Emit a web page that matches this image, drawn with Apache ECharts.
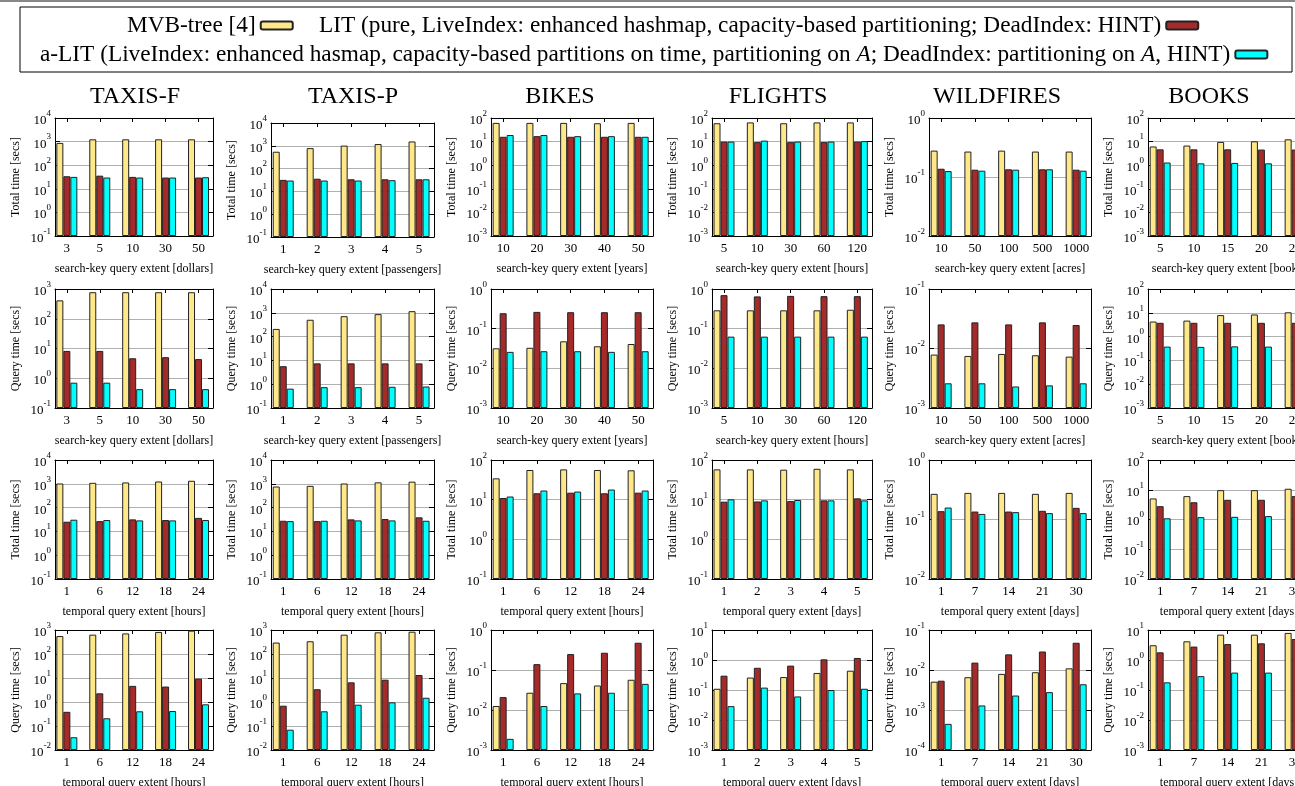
<!DOCTYPE html>
<html><head><meta charset="utf-8">
<script src="https://cdn.jsdelivr.net/npm/echarts@6/dist/echarts.min.js"></script>
<style>html,body{margin:0;padding:0;background:#fff;overflow:hidden}#c{width:1320px;height:786px}</style>
</head><body><div id="c"></div><script>
// ---------------- DATA ----------------
const seriesNames = [
  'MVB-tree [4]',
  'LIT (pure, LiveIndex: enhanced hashmap, capacity-based partitioning; DeadIndex: HINT)',
  'a-LIT (LiveIndex: enhanced hasmap, capacity-based partitions on time, partitioning on A; DeadIndex: partitioning on A, HINT)'
];
const datasetNames = ['TAXIS-F', 'TAXIS-P', 'BIKES', 'FLIGHTS', 'WILDFIRES', 'BOOKS'];
const keyCats = [
  ['3', '5', '10', '30', '50'],
  ['1', '2', '3', '4', '5'],
  ['10', '20', '30', '40', '50'],
  ['5', '10', '30', '60', '120'],
  ['10', '50', '100', '500', '1000'],
  ['5', '10', '15', '20', '25']
];
const timeCats = [
  ['1', '6', '12', '18', '24'],
  ['1', '6', '12', '18', '24'],
  ['1', '6', '12', '18', '24'],
  ['1', '2', '3', '4', '5'],
  ['1', '7', '14', '21', '30'],
  ['1', '7', '14', '21', '30']
];
const keyUnits = ['dollars', 'passengers', 'years', 'hours', 'acres', 'books'];
const timeUnits = ['hours', 'hours', 'hours', 'days', 'days', 'days'];
const rowYNames = ['Total time [secs]', 'Query time [secs]', 'Total time [secs]', 'Query time [secs]'];
// y-axis decade ranges [minExp, maxExp] per column
const yRangeRow1 = [[-1, 4], [-1, 4], [-3, 2], [-3, 2], [-2, 0], [-3, 2]];
const yRangeRow2 = [[-1, 3], [-1, 4], [-3, 0], [-3, 0], [-3, -1], [-3, 2]];
const yRangeRow3 = [[-1, 4], [-1, 4], [-1, 2], [-1, 2], [-2, 0], [-2, 2]];
const yRangeRow4 = [[-2, 3], [-2, 3], [-3, 0], [-3, 1], [-4, -1], [-3, 1]];

// Row 1: search-key query extent, total time
const r1_mvb = [
  [880, 1250, 1250, 1250, 1250],
  [550, 790, 1020, 1190, 1550],
  [62, 62, 62, 60, 62],
  [60, 65, 60, 65, 65],
  [0.28, 0.27, 0.28, 0.27, 0.27],
  [6.2, 6.8, 9.7, 10.3, 12.5]
];
const r1_lit = [
  [34, 36, 32, 30, 30],
  [32, 36, 34, 34, 34],
  [16, 17, 16, 16, 16],
  [10, 9.5, 9.5, 9.5, 10],
  [0.138, 0.133, 0.135, 0.135, 0.133],
  [4.7, 4.7, 4.7, 4.6, 4.6]
];
const r1_alit = [
  [32, 30, 30, 30, 31],
  [30, 30, 30, 31, 34],
  [19, 19, 17, 17, 16],
  [10, 11, 10, 10, 10.5],
  [0.126, 0.128, 0.133, 0.135, 0.128],
  [1.3, 1.2, 1.25, 1.2, 1.2]
];
// Row 2: search-key query extent, query time
const r2_mvb = [
  [415, 780, 780, 780, 780],
  [210, 510, 720, 880, 1170],
  [0.032, 0.033, 0.048, 0.036, 0.041],
  [0.29, 0.29, 0.29, 0.29, 0.30],
  [0.0079, 0.0075, 0.0081, 0.0077, 0.0073],
  [4.3, 4.7, 8, 8.5, 10.5]
];
const r2_lit = [
  [8.3, 8.3, 4.7, 5.1, 4.4],
  [5.7, 7.5, 7.5, 7.5, 7.5],
  [0.245, 0.265, 0.26, 0.26, 0.26],
  [0.70, 0.65, 0.67, 0.66, 0.66],
  [0.0254, 0.0275, 0.0254, 0.0275, 0.0248],
  [3.8, 3.8, 3.8, 3.8, 3.8]
];
const r2_alit = [
  [0.71, 0.71, 0.43, 0.43, 0.43],
  [0.65, 0.75, 0.75, 0.78, 0.8],
  [0.026, 0.027, 0.027, 0.026, 0.027],
  [0.063, 0.063, 0.063, 0.063, 0.063],
  [0.0026, 0.0026, 0.0023, 0.0024, 0.0026],
  [0.38, 0.37, 0.39, 0.38, 0.38]
];
// Row 3: temporal query extent, total time
const r3_mvb = [
  [1030, 1100, 1140, 1250, 1340],
  [770, 820, 1030, 1150, 1230],
  [34.5, 56, 58, 56, 55],
  [58, 58, 57, 60, 58],
  [0.27, 0.28, 0.28, 0.27, 0.28],
  [5.1, 6.1, 9.7, 9.7, 10.8]
];
const r3_lit = [
  [25.5, 27, 32, 30, 37],
  [28, 27, 32, 33, 39],
  [11, 14.5, 15, 14.5, 15],
  [8.9, 9, 9.2, 9.6, 10.8],
  [0.138, 0.136, 0.136, 0.14, 0.157],
  [2.8, 3.8, 4.6, 4.6, 6.1]
];
const r3_alit = [
  [31, 30, 29, 29, 30],
  [27, 28, 29, 29, 28],
  [12, 17, 16, 18, 17],
  [10.2, 9.6, 9.8, 9.6, 9.6],
  [0.159, 0.124, 0.133, 0.128, 0.128],
  [1.1, 1.2, 1.23, 1.3, 1.3]
];
// Row 4: temporal query extent, query time
const r4_mvb = [
  [560, 640, 720, 830, 940],
  [300, 340, 640, 800, 850],
  [0.0126, 0.027, 0.047, 0.041, 0.057],
  [0.11, 0.26, 0.27, 0.37, 0.44],
  [0.0051, 0.0066, 0.008, 0.0088, 0.011],
  [3.1, 4.2, 7, 7, 8]
];
const r4_lit = [
  [0.39, 2.3, 4.7, 4.4, 9.4],
  [0.7, 3.4, 6.6, 8.5, 13.3],
  [0.021, 0.14, 0.25, 0.27, 0.48],
  [0.30, 0.55, 0.65, 1.05, 1.17],
  [0.0054, 0.0153, 0.0246, 0.029, 0.048],
  [1.8, 2.8, 3.4, 3.6, 5.0]
];
const r4_alit = [
  [0.034, 0.21, 0.41, 0.42, 0.8],
  [0.07, 0.41, 0.77, 0.97, 1.5],
  [0.0019, 0.0126, 0.026, 0.027, 0.045],
  [0.029, 0.12, 0.061, 0.1, 0.11],
  [0.00045, 0.0013, 0.0023, 0.0028, 0.0044],
  [0.18, 0.29, 0.38, 0.38, 0.4]
];

// ---------------- LAYOUT / STYLE ----------------
const FONT = "'Liberation Serif', 'Times New Roman', serif";
const COLORS = ['#FFE88A', '#A52A2A', '#00FFFF'];
const colLeft = [55, 271, 491, 712, 929, 1148];
const colWidth = [158, 163, 162, 160, 162, 162];
const titleX = [135, 353, 560, 778, 997, 1209];
const rowTop = [118, 289, 460, 630];
const rowHeight = [118, 119, 119, 120];
const X_MIN = -0.36, X_MAX = 4.44;

const rows = [
  {mvb: r1_mvb, lit: r1_lit, alit: r1_alit, yr: yRangeRow1, cats: keyCats, xname: c => 'search-key query extent [' + keyUnits[c] + ']'},
  {mvb: r2_mvb, lit: r2_lit, alit: r2_alit, yr: yRangeRow2, cats: keyCats, xname: c => 'search-key query extent [' + keyUnits[c] + ']'},
  {mvb: r3_mvb, lit: r3_lit, alit: r3_alit, yr: yRangeRow3, cats: timeCats, xname: c => 'temporal query extent [' + timeUnits[c] + ']'},
  {mvb: r4_mvb, lit: r4_lit, alit: r4_alit, yr: yRangeRow4, cats: timeCats, xname: c => 'temporal query extent [' + timeUnits[c] + ']'}
];

const grid = [], xAxis = [], yAxis = [], series = [], graphic = [];
const idx = [0, 1, 2, 3, 4];
rows.forEach((row, r) => {
  for (let c = 0; c < 6; c++) {
    const g = grid.length;
    let top = rowTop[r], h = rowHeight[r];
    if (r === 0 && c === 1) { top = 123; h = 114; }
    grid.push({left: colLeft[c], top: top, width: colWidth[c], height: h,
      containLabel: false, outerBoundsMode: 'none'});
    const cats = row.cats[c];
    const [e0, e1] = row.yr[c];
    const xb = xAxis.length;
    xAxis.push({
      gridIndex: g, type: 'value', min: X_MIN, max: X_MAX, position: 'bottom',
      axisLine: {show: true, onZero: false, lineStyle: {color: '#000', width: 1}},
      axisTick: {show: true, inside: true, length: 4, customValues: idx, lineStyle: {color: '#000'}},
      axisLabel: {show: true, customValues: idx, formatter: v => cats[Math.round(v)], margin: 6,
        fontFamily: FONT, fontSize: 13, color: '#000'},
      splitLine: {show: false},
      name: row.xname(c), nameLocation: 'middle', nameGap: 27,
      nameTextStyle: {fontFamily: FONT, fontSize: 12, color: '#000'}
    });
    xAxis.push({
      gridIndex: g, type: 'value', min: X_MIN, max: X_MAX, position: 'top',
      axisLine: {show: true, onZero: false, lineStyle: {color: '#000', width: 1}},
      axisTick: {show: true, inside: true, length: 4, customValues: idx, lineStyle: {color: '#000'}},
      axisLabel: {show: false}, splitLine: {show: false}
    });
    const yMain = yAxis.length;
    yAxis.push({
      gridIndex: g, type: 'log', logBase: 10, min: Math.pow(10, e0), max: Math.pow(10, e1),
      startValue: Math.pow(10, e0),
      position: 'left',
      axisLine: {show: true, onZero: false, lineStyle: {color: '#000', width: 1}},
      axisTick: {show: true, inside: true, length: 5, lineStyle: {color: '#000'}},
      axisLabel: {
        margin: 4, color: '#000',
        formatter: v => '{b|10}{s|' + Math.round(Math.log10(v)) + '}',
        rich: {
          b: {fontFamily: FONT, fontSize: 13, color: '#000', verticalAlign: 'bottom', lineHeight: 18},
          s: {fontFamily: FONT, fontSize: 9, color: '#000', verticalAlign: 'top', lineHeight: 18}
        }
      },
      splitLine: {show: true, lineStyle: {color: '#b0b0b0', width: 1.2}},
      name: rowYNames[r], nameLocation: 'middle', nameGap: 33,
      nameTextStyle: {fontFamily: FONT, fontSize: 12, color: '#000'}
    });
    yAxis.push({
      gridIndex: g, type: 'value', min: e0, max: e1, interval: 1, position: 'right',
      axisLine: {show: true, onZero: false, lineStyle: {color: '#000', width: 1}},
      axisTick: {show: true, inside: true, length: 5, lineStyle: {color: '#000'}},
      axisLabel: {show: false}, splitLine: {show: false}
    });
    const vals = [row.mvb[c], row.lit[c], row.alit[c]];
    vals.forEach((arr, s) => {
      series.push({
        type: 'bar', name: seriesNames[s], xAxisIndex: xb, yAxisIndex: yMain,
        barWidth: 7, barGap: '0%',
        itemStyle: {color: COLORS[s], borderColor: '#222', borderWidth: 1},
        data: arr.map((v, i) => [idx[i], v]),
        silent: true
      });
    });
    if (r === 0) {
      graphic.push({type: 'text', x: titleX[c], y: 85,
        style: {text: datasetNames[c], font: '24px ' + FONT, fill: '#000', textAlign: 'center'}});
    }
  }
});

// top page rule and legend box
graphic.push({type: 'line', shape: {x1: 0, y1: 1, x2: 1320, y2: 1},
  style: {stroke: '#888', lineWidth: 2}});
graphic.push({type: 'rect', shape: {x: 20, y: 7, width: 1272, height: 65},
  style: {fill: 'none', stroke: '#000', lineWidth: 1}, z: -1});

const legendText = {fontFamily: FONT, fontSize: 23.3, color: '#000',
  rich: {i: {fontFamily: FONT, fontSize: 23.3, fontStyle: 'italic', color: '#000'}}};
const legendBase = {align: 'right', itemWidth: 32, itemHeight: 8, textStyle: legendText,
  selectedMode: false, padding: 0};
const option = {
  animation: false,
  backgroundColor: '#fff',
  grid, xAxis, yAxis, series, graphic,
  legend: [
    Object.assign({data: [seriesNames[0]], top: 14, left: 127}, legendBase),
    Object.assign({data: [seriesNames[1]], top: 14, left: 319}, legendBase),
    Object.assign({data: [seriesNames[2]], top: 43, left: 40,
      formatter: n => n.replace(/on A/g, 'on {i|A}')}, legendBase)
  ]
};
const chart = echarts.init(document.getElementById('c'), null, {renderer: 'canvas'});
chart.setOption(option);
</script></body></html>
